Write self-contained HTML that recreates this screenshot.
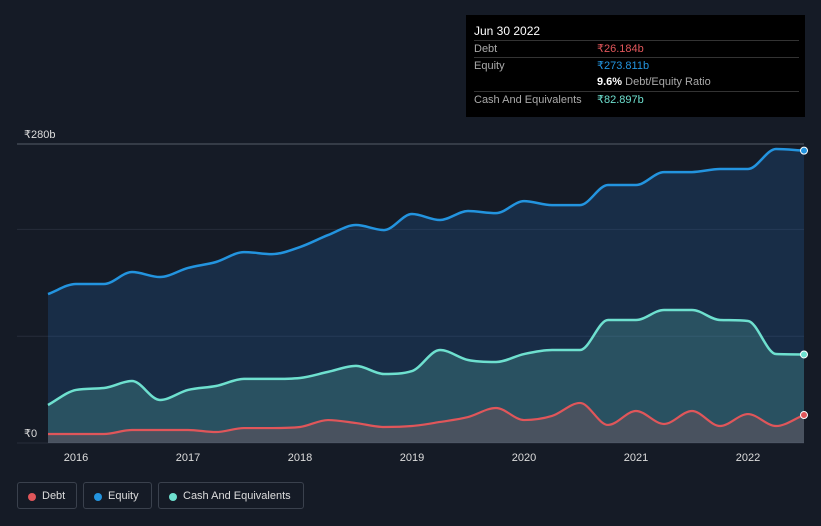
<!DOCTYPE html>
<html><head><meta charset="utf-8"><style>
body{margin:0;background:#151b26;font-family:"Liberation Sans",sans-serif;}
#wrap{position:relative;width:821px;height:526px;overflow:hidden;background:#151b26;}
.tip{position:absolute;left:466px;top:15px;width:339px;height:102px;background:#000;color:#fff;font-size:11px;}
.row{position:absolute;left:8px;right:6px;height:17px;border-top:1px solid #333;line-height:17px;}
.row .k{position:absolute;left:0;color:#aaa}
.row .v{position:absolute;left:123px}
.leg{position:absolute;top:482px;height:27px;border:1px solid #3a414d;border-radius:3px;color:#ddd;font-size:11px;line-height:27px;padding:0 10px 0 24px;box-sizing:border-box}
.leg i{position:absolute;left:10px;top:10px;width:8px;height:8px;border-radius:50%}
</style></head><body>
<div id="wrap">
<svg id="chart" width="821" height="526" style="position:absolute;left:0;top:0"></svg>
<div class="tip">
 <div style="position:absolute;left:8px;top:9px;font-size:12px">Jun 30 2022</div>
 <div class="row" style="top:25px"><span class="k">Debt</span><span class="v" style="color:#e0565a">₹26.184b</span></div>
 <div class="row" style="top:42px"><span class="k">Equity</span><span class="v" style="color:#2394df">₹273.811b</span></div>
 <div class="row" style="top:59px;border-top:none"><span class="v"><b>9.6%</b> <span style="color:#aaa">Debt/Equity Ratio</span></span></div>
 <div class="row" style="top:76px"><span class="k">Cash And Equivalents</span><span class="v" style="color:#6ee0cf">₹82.897b</span></div>
</div>
<div class="leg" style="left:17px;width:60px"><i style="background:#e0565a"></i>Debt</div>
<div class="leg" style="left:83px;width:69px"><i style="background:#2394df"></i>Equity</div>
<div class="leg" style="left:158px;width:146px"><i style="background:#6ee0cf"></i>Cash And Equivalents</div>
</div>
<script>
const equity=[139.5,148.9,148.9,160.1,155.4,163.9,169.5,178.8,176.9,183.5,194.7,204.1,199.4,214.4,208.8,217.2,215.3,226.5,222.8,222.8,241.6,241.6,253.7,253.7,256.6,256.6,275.3,273.8];
const cash=[35.6,49.7,51.5,58.1,40.3,49.7,53.4,60,60,60.9,66.6,72.2,64.6,67.4,87.1,77.7,75.8,83.3,87.1,87.1,115.2,115.2,124.6,124.6,115.2,114.3,83.3,82.9];
const debt=[8.4,8.4,8.4,12.2,12.2,12.2,10.3,14,14,15,21.5,18.7,15,15.9,19.7,24.3,32.8,21.5,25.3,37.5,16.9,30,17.8,30,15.9,27.1,15.9,26.2];
const startYear=2015.75;
const years=[2016,2017,2018,2019,2020,2021,2022];
const gridVals=[0,100,200,280];
const yLabels=[[280,"₹280b"],[0,"₹0"]];
const NS="http://www.w3.org/2000/svg";
const svg=document.getElementById('chart');
const x=t=>48+(t-startYear)*112;
const y=v=>443-v*(299/280);
function mk(tag,attrs){const e=document.createElementNS(NS,tag);for(const k in attrs)e.setAttribute(k,attrs[k]);svg.appendChild(e);return e;}
gridVals.forEach(g=>{const l=mk('line',{x1:17,x2:804,y1:y(g),y2:y(g),stroke:g==280?'#555c68':'#262d3a','stroke-width':1});

});
yLabels.forEach(([v,s])=>{const t=mk('text',{x:24,y:y(v)-6,fill:'#ddd','font-size':11});t.textContent=s;

});
years.forEach(yr=>{const t=mk('text',{x:x(yr),y:461,fill:'#ddd','font-size':11,'text-anchor':'middle'});t.textContent=yr;

});
function pts(arr){return arr.map((v,i)=>[x(startYear+i*0.25),y(v)]);}
function path(p){const n=p.length;const d=[],m=new Array(n);
for(let i=0;i<n-1;i++)d.push((p[i+1][1]-p[i][1])/(p[i+1][0]-p[i][0]));
m[0]=d[0];m[n-1]=d[n-2];
for(let i=1;i<n-1;i++){m[i]=(d[i-1]*d[i]<=0)?0:(d[i-1]+d[i])/2;}
for(let i=0;i<n-1;i++){if(d[i]===0){m[i]=0;m[i+1]=0;continue;}const a=m[i]/d[i],b=m[i+1]/d[i],s=a*a+b*b;if(s>9){const t=3/Math.sqrt(s);m[i]=t*a*d[i];m[i+1]=t*b*d[i];}}
let s='M'+p[0][0]+','+p[0][1];
for(let i=0;i<n-1;i++){const h=(p[i+1][0]-p[i][0])/3;s+=` C${p[i][0]+h},${p[i][1]+m[i]*h} ${p[i+1][0]-h},${p[i+1][1]-m[i+1]*h} ${p[i+1][0]},${p[i+1][1]}`;}
return s;}
const series=[[equity,'#2394df','rgba(35,110,190,0.22)','equity'],[cash,'#6ee0cf','rgba(110,224,207,0.2)','cash'],[debt,'#e0565a','rgba(224,86,90,0.18)','debt']];
series.forEach(([arr,c,f,n])=>{const p=pts(arr);const d=path(p);
const a=mk('path',{d:d+` L${p[p.length-1][0]},443 L${p[0][0]},443 Z`,fill:f});


const l=mk('path',{d:d,fill:'none',stroke:c,'stroke-width':n=='debt'?2.2:2.5});


const e=p[p.length-1];const mkr=mk('circle',{cx:e[0],cy:e[1],r:3.5,fill:c,stroke:'#fff','stroke-width':1});

});
</script>
</body></html>
